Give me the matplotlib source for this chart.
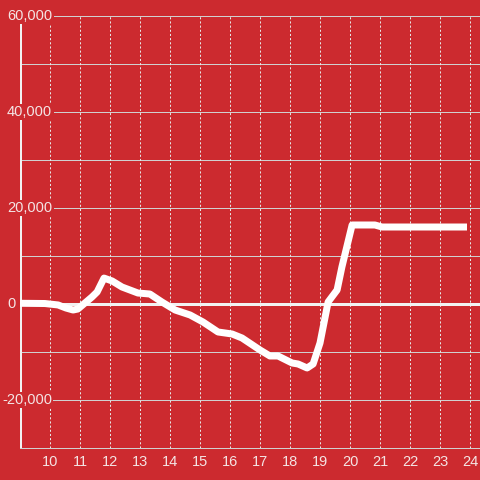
import matplotlib
matplotlib.use("Agg")
import matplotlib.pyplot as plt

plt.rcParams['font.family'] = ['Liberation Sans', 'DejaVu Sans']
plt.rcParams['lines.scale_dashes'] = False

# czas (godziny) i wartości
hours = [9.0, 9.83, 10.27, 10.53, 10.77, 10.93, 11.4, 11.57, 11.8, 12.07, 12.4,
         12.93, 13.33, 13.73, 14.17, 14.67, 15.1, 15.6, 16.07, 16.4, 17.0,
         17.33, 17.6, 18.07, 18.27, 18.57, 18.77, 19.0, 19.27, 19.57, 19.73,
         20.07, 20.83, 21.07, 23.9]
values = [150, 100, -200, -830, -1250, -1040, 1460, 2500, 5400, 4800, 3540,
          2290, 2080, 420, -1250, -2290, -3750, -5830, -6250, -7080, -9580,
          -10830, -10830, -12290, -12500, -13330, -12500, -8130, 420, 2920, 7710,
          16460, 16460, 16040, 16040]

x_ticks = list(range(10, 25))
y_labels = [60000, 40000, 20000, 0, -20000]
y_grid = [60000, 50000, 40000, 30000, 20000, 10000, -10000, -20000, -30000]

bg = '#cc2a2f'
px = 72 / 100  # 1 piksel w punktach

fig = plt.figure(figsize=(4.8, 4.8), dpi=100, facecolor=bg)
ax = fig.add_axes([20 / 480, 32 / 480, 460 / 480, 432 / 480], facecolor=bg)
ax.set_xlim(9, 24 + 1 / 3)
ax.set_ylim(-30000, 60000)
for s in ax.spines.values():
    s.set_visible(False)

for v in y_grid:
    ax.axhline(v, color='#d0d0d0', lw=1 * px, zorder=1, clip_on=False)
for t in x_ticks:
    ax.axvline(t, color='#e6e6e6', lw=1 * px, ls=(0, (1.5, 1.5)), zorder=1)
ax.axhline(0, color='#f2f2f2', lw=3 * px, zorder=2)
ax.axvline(9, color='#f2f2f2', lw=3 * px, zorder=2)

ax.plot(hours, values, color='white', lw=7 * px, zorder=4,
        solid_joinstyle='round', solid_capstyle='butt')

ax.set_xticks(x_ticks)
ax.set_xticklabels([str(t) for t in x_ticks])
ax.set_yticks([])
ax.tick_params(axis='x', length=0, pad=5, labelsize=10.5, labelcolor='#f4e4e4')

for v in y_labels:
    off = -18 if v < 0 else -13
    ax.annotate(f'{v:,}', xy=(0, v), xycoords=ax.get_yaxis_transform(),
                xytext=(off, 0), textcoords='offset pixels',
                ha='left', va='center', fontsize=10.5, color='#f4e4e4',
                annotation_clip=False, zorder=5,
                bbox=dict(boxstyle='square,pad=0.1', fc=bg, ec='none'))

fig.savefig('out.png', dpi=100, facecolor=bg)
